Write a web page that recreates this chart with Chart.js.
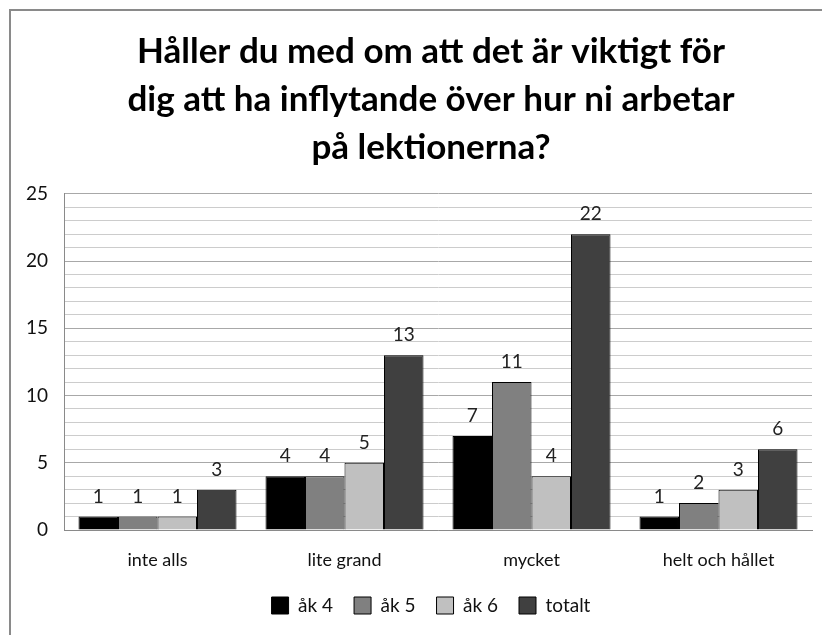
<!DOCTYPE html>
<html>
<head>
<meta charset="utf-8">
<script src="https://cdn.jsdelivr.net/npm/chart.js@4.4.0/dist/chart.umd.min.js"></script>
<style>
    html, body { margin: 0; padding: 0; background: #fff; }
    #wrap { position: relative; width: 822px; height: 635px; overflow: hidden; }
    #frame { position: absolute; left: 9px; top: 9px; width: 900px; height: 700px;
             border-left: 2px solid #8a8a8a; border-top: 2px solid #8a8a8a; }
    canvas { position: absolute; left: 0; top: 0; }
</style>
</head>
<body>
<div id="wrap">
    <div id="frame"></div>
    <canvas id="chart" width="822" height="635"></canvas>
</div>
<script>
// chart data
const categories = ['inte alls', 'lite grand', 'mycket', 'helt och hållet'];
const ak4 = [1, 4, 7, 1];
const ak5 = [1, 4, 11, 2];
const ak6 = [1, 5, 4, 3];
const totalt = [3, 13, 22, 6];
const seriesNames = ['åk 4', 'åk 5', 'åk 6', 'totalt'];
const seriesColors = ['#000000', '#808080', '#c0c0c0', '#404040'];
const titleLines = [
    'Håller du med om att det är viktigt för',
    'dig att ha inflytande över hur ni arbetar',
    'på lektionerna?'
];

const fontFamily = 'Lato, "Open Sans", sans-serif';

// draw value labels above bars
const valueLabels = {
    id: 'valueLabels',
    afterDatasetsDraw(chart) {
        const ctx = chart.ctx;
        ctx.save();
        ctx.font = '19px ' + fontFamily;
        ctx.fillStyle = '#222';
        ctx.textAlign = 'center';
        ctx.textBaseline = 'alphabetic';
        chart.data.datasets.forEach((ds, i) => {
            chart.getDatasetMeta(i).data.forEach((bar, j) => {
                ctx.fillText(ds.data[j], bar.x, bar.y - 14);
            });
        });
        ctx.restore();
    }
};

// the original chart frame runs past the right edge, so title and legend sit a bit right of centre
const shiftBoxes = {
    id: 'shiftBoxes',
    afterLayout(chart) {
        [chart.titleBlock, chart.legend].forEach(box => {
            if (box) { box.left += 20; box.right += 20; }
        });
    }
};

const allSeries = [ak4, ak5, ak6, totalt];

new Chart(document.getElementById('chart'), {
    type: 'bar',
    data: {
        labels: categories,
        datasets: allSeries.map((vals, i) => ({
            label: seriesNames[i],
            data: vals,
            backgroundColor: seriesColors[i],
            borderColor: '#000',
            borderWidth: 1,
            categoryPercentage: 0.845,
            barPercentage: 1
        }))
    },
    options: {
        responsive: false,
        animation: false,
        layout: { padding: { left: 10, right: 10, top: 0, bottom: 10 } },
        plugins: {
            title: {
                display: true,
                text: titleLines,
                color: '#000',
                font: { family: fontFamily, size: 35, weight: 'bold', lineHeight: 1.37 },
                padding: { top: 28, bottom: 22 }
            },
            legend: {
                position: 'bottom',
                labels: {
                    boxWidth: 17,
                    boxHeight: 17,
                    padding: 21,
                    color: '#111',
                    font: { family: fontFamily, size: 19 }
                }
            },
            tooltip: { enabled: false }
        },
        scales: {
            x: {
                grid: { display: false },
                border: { color: '#8a8a8a', width: 1 },
                afterFit(scale) { scale.height = 45; },
                ticks: { color: '#111', font: { family: fontFamily, size: 18 }, padding: 11 }
            },
            y: {
                min: 0,
                max: 25,
                afterFit(scale) { scale.width = 54; },
                grid: {
                    drawTicks: false,
                    color: ctx => (ctx.tick && ctx.tick.value % 5 === 0) ? '#a8a8a8' : '#cccccc'
                },
                border: { color: '#8a8a8a', width: 1 },
                ticks: {
                    stepSize: 1,
                    autoSkip: false,
                    padding: 16,
                    color: '#111',
                    font: { family: fontFamily, size: 19 },
                    callback: v => (v % 5 === 0 ? v : '')
                }
            }
        }
    },
    plugins: [valueLabels, shiftBoxes]
});
</script>
</body>
</html>
